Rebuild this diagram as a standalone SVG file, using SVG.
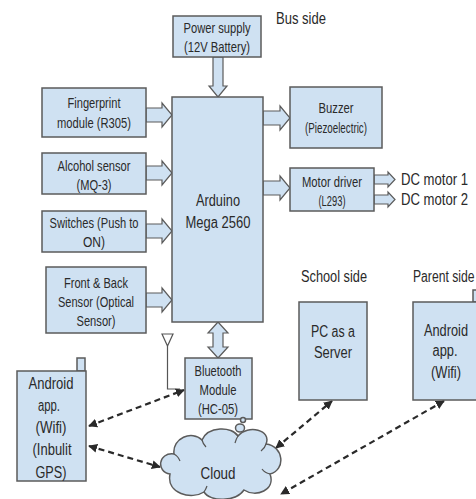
<svg xmlns="http://www.w3.org/2000/svg" width="476" height="499" viewBox="0 0 476 499">
<defs>
<style>
.box{fill:#cfe1f2;stroke:#5b5b5b;stroke-width:1.5}
.blk{fill:#cfe1f2;stroke:#5b5b5b;stroke-width:1.2;stroke-linejoin:miter}
.t{font-family:"Liberation Sans",Arial,sans-serif;font-size:15px;fill:#2a2a2a;text-anchor:middle}
.l{font-family:"Liberation Sans",Arial,sans-serif;font-size:16px;fill:#2a2a2a}
.dash{fill:none;stroke:#2a2a2a;stroke-width:2.2;stroke-dasharray:6 4}
.thin{fill:none;stroke:#555;stroke-width:1.2}
</style>
<marker id="ah" viewBox="0 0 10 10" refX="9" refY="5" markerWidth="9" markerHeight="9" markerUnits="userSpaceOnUse" orient="auto-start-reverse">
<path d="M0 0 L10 5 L0 10 Z" fill="#2a2a2a"/>
</marker>
</defs>

<rect width="476" height="499" fill="#ffffff"/>

<g id="connectors">
<path class="blk" d="M213 57 V86 H209 L218 97 L227 86 H223 V57 Z"/>
<path class="blk" d="M146 108 H162 V103 L172 115 L162 127 V122 H146 Z"/>
<path class="blk" d="M146 166 H162 V161 L172 173 L162 185 V180 H146 Z"/>
<path class="blk" d="M146 224 H162 V219 L172 231 L162 243 V238 H146 Z"/>
<path class="blk" d="M146 293 H162 V288 L172 300 L162 312 V307 H146 Z"/>
<path class="blk" d="M263 111 H280 V106 L290 118 L280 130 V125 H263 Z"/>
<path class="blk" d="M263 181 H280 V176 L290 188 L280 200 V195 H263 Z"/>
<path class="blk" d="M374 175 H388 V172 L395 179.5 L388 187 V184 H374 Z"/>
<path class="blk" d="M374 195 H388 V192 L395 199.5 L388 207 V204 H374 Z"/>
<path class="blk" d="M218 322 L228 333 H223 V347 H228 L218 358 L208 347 H213 V333 H208 Z"/>
<polygon class="thin" points="162,334 173,334 167.5,346"/>
<path class="thin" d="M167.5 346 V389 H180"/>
<path class="dash" d="M89 426 L184 390" marker-start="url(#ah)" marker-end="url(#ah)"/>
<path class="dash" d="M89 446 L160 467" marker-start="url(#ah)" marker-end="url(#ah)"/>
<path class="dash" d="M276 448 L332 401" marker-start="url(#ah)" marker-end="url(#ah)"/>
<path class="dash" d="M444 401 L281 494" marker-start="url(#ah)" marker-end="url(#ah)"/>
</g>

<g id="power">
<rect class="box" x="173" y="16" width="88" height="41"/>
<text class="t" x="217" y="33" textLength="67" lengthAdjust="spacingAndGlyphs">Power supply</text>
<text class="t" x="217" y="52" textLength="66" lengthAdjust="spacingAndGlyphs">(12V Battery)</text>
</g>
<g id="bus-side-label">
<text class="l" x="276" y="24" style="font-size:17px" textLength="50" lengthAdjust="spacingAndGlyphs">Bus side</text>
</g>
<g id="arduino">
<rect class="box" x="172" y="97" width="91" height="225"/>
<text class="t" x="218" y="206" style="font-size:16px" textLength="44" lengthAdjust="spacingAndGlyphs">Arduino</text>
<text class="t" x="218" y="228" style="font-size:16px" textLength="65" lengthAdjust="spacingAndGlyphs">Mega 2560</text>
</g>
<g id="fingerprint">
<rect class="box" x="42" y="88" width="104" height="49"/>
<text class="t" x="94" y="108" textLength="53" lengthAdjust="spacingAndGlyphs">Fingerprint</text>
<text class="t" x="94" y="128" textLength="74" lengthAdjust="spacingAndGlyphs">module (R305)</text>
</g>
<g id="alcohol">
<rect class="box" x="42" y="153" width="104" height="41"/>
<text class="t" x="94" y="171" textLength="73" lengthAdjust="spacingAndGlyphs">Alcohol sensor</text>
<text class="t" x="94" y="190" textLength="35" lengthAdjust="spacingAndGlyphs">(MQ-3)</text>
</g>
<g id="switches">
<rect class="box" x="42" y="211" width="104" height="41"/>
<text class="t" x="94" y="228" textLength="89" lengthAdjust="spacingAndGlyphs">Switches (Push to</text>
<text class="t" x="94" y="247" textLength="22" lengthAdjust="spacingAndGlyphs">ON)</text>
</g>
<g id="front-back">
<rect class="box" x="46" y="267" width="100" height="66"/>
<text class="t" x="96" y="288" textLength="64" lengthAdjust="spacingAndGlyphs">Front &amp; Back</text>
<text class="t" x="96" y="307" textLength="76" lengthAdjust="spacingAndGlyphs">Sensor (Optical</text>
<text class="t" x="96" y="326" textLength="39" lengthAdjust="spacingAndGlyphs">Sensor)</text>
</g>
<g id="buzzer">
<rect class="box" x="290" y="87" width="92" height="61"/>
<text class="t" x="336" y="113" textLength="35" lengthAdjust="spacingAndGlyphs">Buzzer</text>
<text class="t" x="336" y="133" textLength="62" lengthAdjust="spacingAndGlyphs">(Piezoelectric)</text>
</g>
<g id="motor-driver">
<rect class="box" x="290" y="168" width="84" height="43"/>
<text class="t" x="332" y="187" textLength="60" lengthAdjust="spacingAndGlyphs">Motor driver</text>
<text class="t" x="332" y="206" textLength="27" lengthAdjust="spacingAndGlyphs">(L293)</text>
</g>
<g id="dc-motors">
<text class="l" transform="translate(401,185) scale(0.82,1)" x="0" y="0">DC motor 1</text>
<text class="l" transform="translate(401,205) scale(0.82,1)" x="0" y="0">DC motor 2</text>
</g>
<g id="school-side">
<text class="l" x="301" y="282" textLength="66" lengthAdjust="spacingAndGlyphs">School side</text>
<rect class="box" x="299" y="302" width="68" height="98"/>
<text class="t" x="333" y="337" style="font-size:16px" textLength="44" lengthAdjust="spacingAndGlyphs">PC as a</text>
<text class="t" x="333" y="358" style="font-size:16px" textLength="38" lengthAdjust="spacingAndGlyphs">Server</text>
</g>
<g id="parent-side">
<text class="l" transform="translate(413,282) scale(0.76,1)" x="0" y="0">Parent side</text>
<rect class="box" x="473" y="290" width="8" height="12"/>
<rect class="box" x="413" y="302" width="69" height="98"/>
<text class="t" transform="translate(446,336) scale(0.8,1)" x="0" y="0" style="font-size:16px">Android</text>
<text class="t" x="445" y="356" style="font-size:16px" textLength="25" lengthAdjust="spacingAndGlyphs">app.</text>
<text class="t" x="446" y="378" style="font-size:16px" textLength="30" lengthAdjust="spacingAndGlyphs">(Wifi)</text>
</g>
<g id="android-bus">
<rect class="box" x="77" y="358" width="8" height="13"/>
<rect class="box" x="17" y="371" width="69" height="110"/>
<text class="t" x="51" y="389" style="font-size:16px" textLength="45" lengthAdjust="spacingAndGlyphs">Android</text>
<text class="t" x="49" y="411" style="font-size:16px" textLength="22" lengthAdjust="spacingAndGlyphs">app.</text>
<text class="t" x="51" y="433" style="font-size:16px" textLength="31" lengthAdjust="spacingAndGlyphs">(Wifi)</text>
<text class="t" x="52" y="455" style="font-size:16px" textLength="39" lengthAdjust="spacingAndGlyphs">(Inbulit</text>
<text class="t" x="51" y="478" style="font-size:16px" textLength="31" lengthAdjust="spacingAndGlyphs">GPS)</text>
</g>
<g id="bluetooth">
<rect class="box" x="185" y="358" width="67" height="61"/>
<text class="t" x="218" y="376" textLength="47" lengthAdjust="spacingAndGlyphs">Bluetooth</text>
<text class="t" x="218" y="395" textLength="37" lengthAdjust="spacingAndGlyphs">Module</text>
<text class="t" x="218" y="414" textLength="40" lengthAdjust="spacingAndGlyphs">(HC-05)</text>
</g>
<g id="cloud">
<ellipse class="box" cx="243" cy="420" rx="2.5" ry="2.5"/>
<ellipse class="box" cx="240" cy="428" rx="4.5" ry="4"/>
<path class="box" d="M170 474 C156 472 158 452 174 454 C172 438 192 430 202 440 C208 426 232 426 238 436 C248 424 272 430 266 444 C284 446 286 470 270 474 C276 490 256 498 244 490 C236 502 210 502 204 492 C192 500 166 494 170 474 Z"/>
<path class="thin" d="M174 454 Q178 456 180 461 M202 440 Q203 444 206 447 M238 436 Q236 439 235 443 M266 444 Q265 448 261 451 M270 474 Q265 473 262 469 M204 492 Q206 489 207 486"/>
<text class="t" x="218" y="479" style="font-size:17px" textLength="35" lengthAdjust="spacingAndGlyphs">Cloud</text>
</g>
</svg>
